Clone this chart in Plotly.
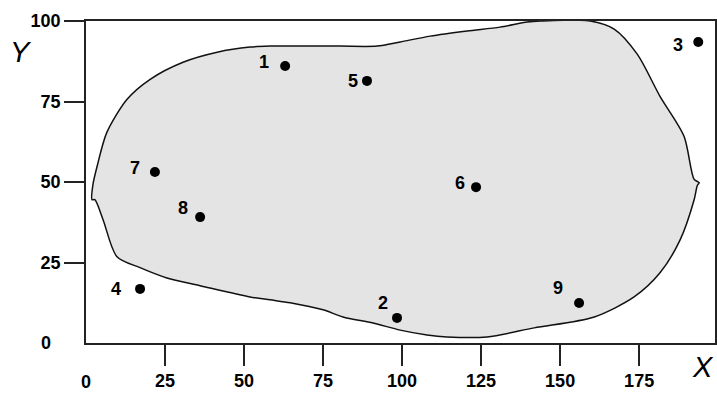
import plotly.graph_objects as go

# Points
point_labels = ["1", "2", "3", "4", "5", "6", "7", "8", "9"]
point_x = [63.0, 98.4, 193.7, 17.1, 88.9, 123.4, 21.8, 36.1, 156.0]
point_y = [86.0, 7.8, 93.5, 16.8, 81.4, 48.4, 53.1, 39.1, 12.4]

# Region boundary
boundary_x = [1.9, 2.2, 3.5, 6.6, 13.0, 20.3, 30.7, 41.5, 51.9, 58.2, 67.7, 80.4, 92.1,
              99.4, 108.9, 120.6, 131.0, 139.6, 143.7, 159.5, 167.1, 174.4, 181.6, 189.2,
              192.4, 194.0, 193.4, 192.4, 188.0, 181.6, 173.4, 160.8, 141.8, 126.9, 114.2,
              107.9, 99.4, 90.8, 81.3, 75.0, 64.6, 58.2, 51.9, 36.1, 25.6, 17.1, 9.8, 5.4,
              2.8, 1.9]
boundary_y = [44.5, 49.2, 54.8, 65.4, 75.7, 81.9, 87.2, 90.3, 91.9, 92.2, 92.2, 92.2, 92.2,
              93.5, 95.3, 96.9, 98.1, 99.7, 100.0, 100.0, 97.5, 89.7, 76.6, 64.2,
              50.8, 49.8, 48.9, 44.5, 32.1, 21.8, 14.3, 8.1, 4.7, 1.9, 1.9,
              2.5, 4.0, 6.2, 8.1, 10.3, 12.5, 13.4, 14.3, 17.8, 20.2, 23.4, 26.8, 38.3,
              44.5, 44.5]

tick_vals = [25, 50, 75, 100, 125, 150, 175]
y_tick_vals = [25, 50, 75, 100]

fig = go.Figure()
fig.add_trace(go.Scatter(x=boundary_x, y=boundary_y, mode="lines", fill="toself",
                         fillcolor="#e4e4e4",
                         line=dict(color="#111111", width=1.5, shape="spline", smoothing=0.8),
                         hoverinfo="skip", showlegend=False, cliponaxis=False))
fig.add_trace(go.Scatter(x=point_x, y=point_y, mode="markers",
                         marker=dict(color="black", size=10), showlegend=False,
                         cliponaxis=False))

label_dx = [-21, -14, -20, -24, -14, -16, -20, -17, -21]
label_dy = [4, 15, -3, 0, 0, 4, 4, 9, 15]
for lab, x, y, dx, dy in zip(point_labels, point_x, point_y, label_dx, label_dy):
    fig.add_annotation(x=x, y=y, text=lab, showarrow=False, xshift=dx, yshift=dy,
                       xanchor="center", yanchor="middle",
                       font=dict(family="Liberation Sans", size=18, color="black", weight="bold"))

axis_font = dict(family="Liberation Sans", size=18, color="black", weight="bold")
fig.update_xaxes(range=[0, 199], tickmode="array", tickvals=tick_vals, ticks="outside",
                 ticklen=21, tickwidth=2, tickcolor="#222", showline=True, linecolor="#222",
                 linewidth=1.5, mirror=True, showgrid=False, zeroline=False,
                 tickfont=axis_font, automargin=False)
fig.update_yaxes(range=[0, 100], tickmode="array", tickvals=y_tick_vals, ticks="outside",
                 ticklen=20, tickwidth=2, tickcolor="#222", showline=True, linecolor="#222",
                 linewidth=1.5, mirror=True, showgrid=False, zeroline=False,
                 tickfont=axis_font, automargin=False)

# "0" labels at the corner (no tick marks there)
fig.add_annotation(x=0, y=0, xref="x", yref="y", text="0", showarrow=False,
                   xanchor="center", yanchor="middle", yshift=-39, font=axis_font)
fig.add_annotation(x=0, y=0, xref="x", yref="y", text="0", showarrow=False,
                   xanchor="center", yanchor="middle", xshift=-40, font=axis_font)

# Axis titles
fig.add_annotation(xref="paper", yref="paper", x=-0.103, y=0.904, text="<i>Y</i>",
                   xanchor="center", yanchor="middle", showarrow=False,
                   font=dict(family="Liberation Sans", size=29, color="black"))
fig.add_annotation(xref="paper", yref="paper", x=0.981, y=-0.075, text="<i>X</i>",
                   xanchor="center", yanchor="middle", showarrow=False,
                   font=dict(family="Liberation Sans", size=29, color="black"))

fig.update_layout(width=717, height=394, margin=dict(l=86, r=2, t=21, b=51),
                  plot_bgcolor="white", paper_bgcolor="white")
fig.write_html("out.html", config={"displayModeBar": False},
               post_script="document.body.style.margin='0px';document.body.style.overflow='hidden';")
